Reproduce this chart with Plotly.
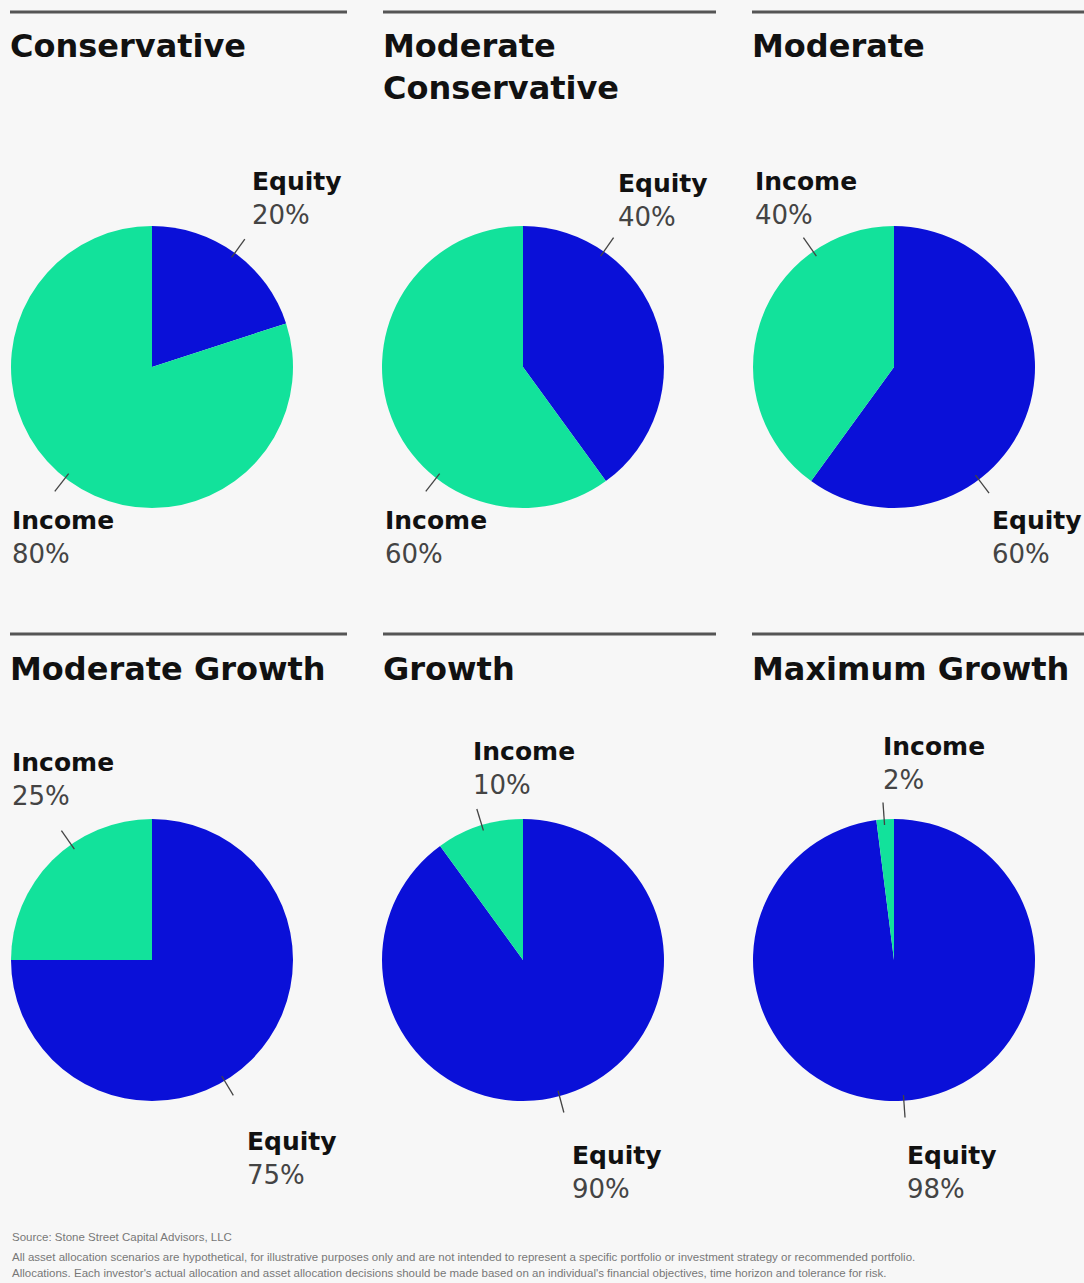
import math
import plotly.graph_objects as go

# ---- data ----
portfolios = ["Conservative", "Moderate<br>Conservative", "Moderate",
              "Moderate Growth", "Growth", "Maximum Growth"]
categories = ["Equity", "Income"]
equity_pct = [20, 40, 60, 75, 90, 98]
income_pct = [80, 60, 40, 25, 10, 2]

# ---- layout constants (pixels) ----
W, H = 1084, 1283
col_cx = [152, 523, 894]
row_cy = [367, 960]
R = 141
colors = {"Equity": "#0a10d8", "Income": "#12e29b"}
bg = "#f7f7f7"
FONT = "DejaVu Sans"

# label placement: (x_left, y_center_of_name, leader angle deg clockwise from top)
label_pos = [
    {"Equity": (250, 181, 36), "Income": (10, 520, 218)},
    {"Equity": (616, 183, 35), "Income": (383, 520, 218)},
    {"Equity": (990, 520, 143), "Income": (753, 181, 325)},
    {"Equity": (245, 1141, 149), "Income": (10, 762, 325)},
    {"Equity": (570, 1155, 165), "Income": (471, 751, 343)},
    {"Equity": (905, 1155, 176), "Income": (881, 746, 356)},
]
title_y = [45, 668]
rule_y = [12, 634]
rule_x = [(10, 347), (383, 716), (752, 1084)]

fig = go.Figure()
shapes = []
annotations = []

for i, name in enumerate(portfolios):
    r, c = divmod(i, 3)
    cx, cy = col_cx[c], row_cy[r]
    vals = [equity_pct[i], income_pct[i]]
    fig.add_trace(go.Pie(
        labels=categories, values=vals, sort=False, direction="clockwise",
        rotation=0, textinfo="none", hoverinfo="label+percent",
        marker=dict(colors=[colors[k] for k in categories], line=dict(width=0)),
        domain=dict(x=[(cx - R) / W, (cx + R) / W],
                    y=[1 - (cy + R) / H, 1 - (cy - R) / H]),
        showlegend=False,
    ))
    for k, v in zip(categories, vals):
        lx, ly, ang = label_pos[i][k]
        a = math.radians(ang)
        sx, sy = math.sin(a), -math.cos(a)
        shapes.append(dict(type="line", xref="x", yref="y",
                           x0=cx + sx * R * 0.96, y0=cy + sy * R * 0.96,
                           x1=cx + sx * R * 1.12, y1=cy + sy * R * 1.12,
                           line=dict(color="#444", width=1.3)))
        annotations.append(dict(x=lx, y=ly, xref="x", yref="y", text=f"<b>{k}</b>",
                                showarrow=False, xanchor="left", yanchor="middle",
                                font=dict(size=25, color="#111", family=FONT)))
        annotations.append(dict(x=lx, y=ly + 34, xref="x", yref="y", text=f"{v}%",
                                showarrow=False, xanchor="left", yanchor="middle",
                                font=dict(size=26, color="#444", family=FONT)))
    x0, x1 = rule_x[c]
    annotations.append(dict(x=x0 - 2, y=title_y[r] - 20, xref="x", yref="y",
                            text=f"<b>{name}</b>", showarrow=False,
                            xanchor="left", yanchor="top", align="left",
                            font=dict(size=32, color="#111", family=FONT)))
    shapes.append(dict(type="line", xref="x", yref="y", x0=x0, x1=x1,
                       y0=rule_y[r], y1=rule_y[r], line=dict(color="#555", width=3)))

footer = [
    "Source: Stone Street Capital Advisors, LLC",
    "All asset allocation scenarios are hypothetical, for illustrative purposes only and are not intended to represent a specific portfolio or investment strategy or recommended portfolio.",
    "Allocations. Each investor's actual allocation and asset allocation decisions should be made based on an individual's financial objectives, time horizon and tolerance for risk.",
]
footer_y = [1237, 1257, 1273]
for t, fy in zip(footer, footer_y):
    annotations.append(dict(x=10, y=fy, xref="x", yref="y",
                            text=t, showarrow=False, xanchor="left", yanchor="middle",
                            font=dict(size=11.5, color="#777", family="Liberation Sans Narrow, Liberation Sans")))

fig.update_layout(
    width=W, height=H, margin=dict(l=0, r=0, t=0, b=0),
    paper_bgcolor=bg, plot_bgcolor="rgba(0,0,0,0)",
    xaxis=dict(range=[0, W], visible=False, fixedrange=True),
    yaxis=dict(range=[H, 0], visible=False, fixedrange=True),
    shapes=shapes, annotations=annotations,
)
fig.write_html("out.html", config={"displayModeBar": False},
               post_script="document.body.style.margin='0';document.body.style.background='#f7f7f7';")
